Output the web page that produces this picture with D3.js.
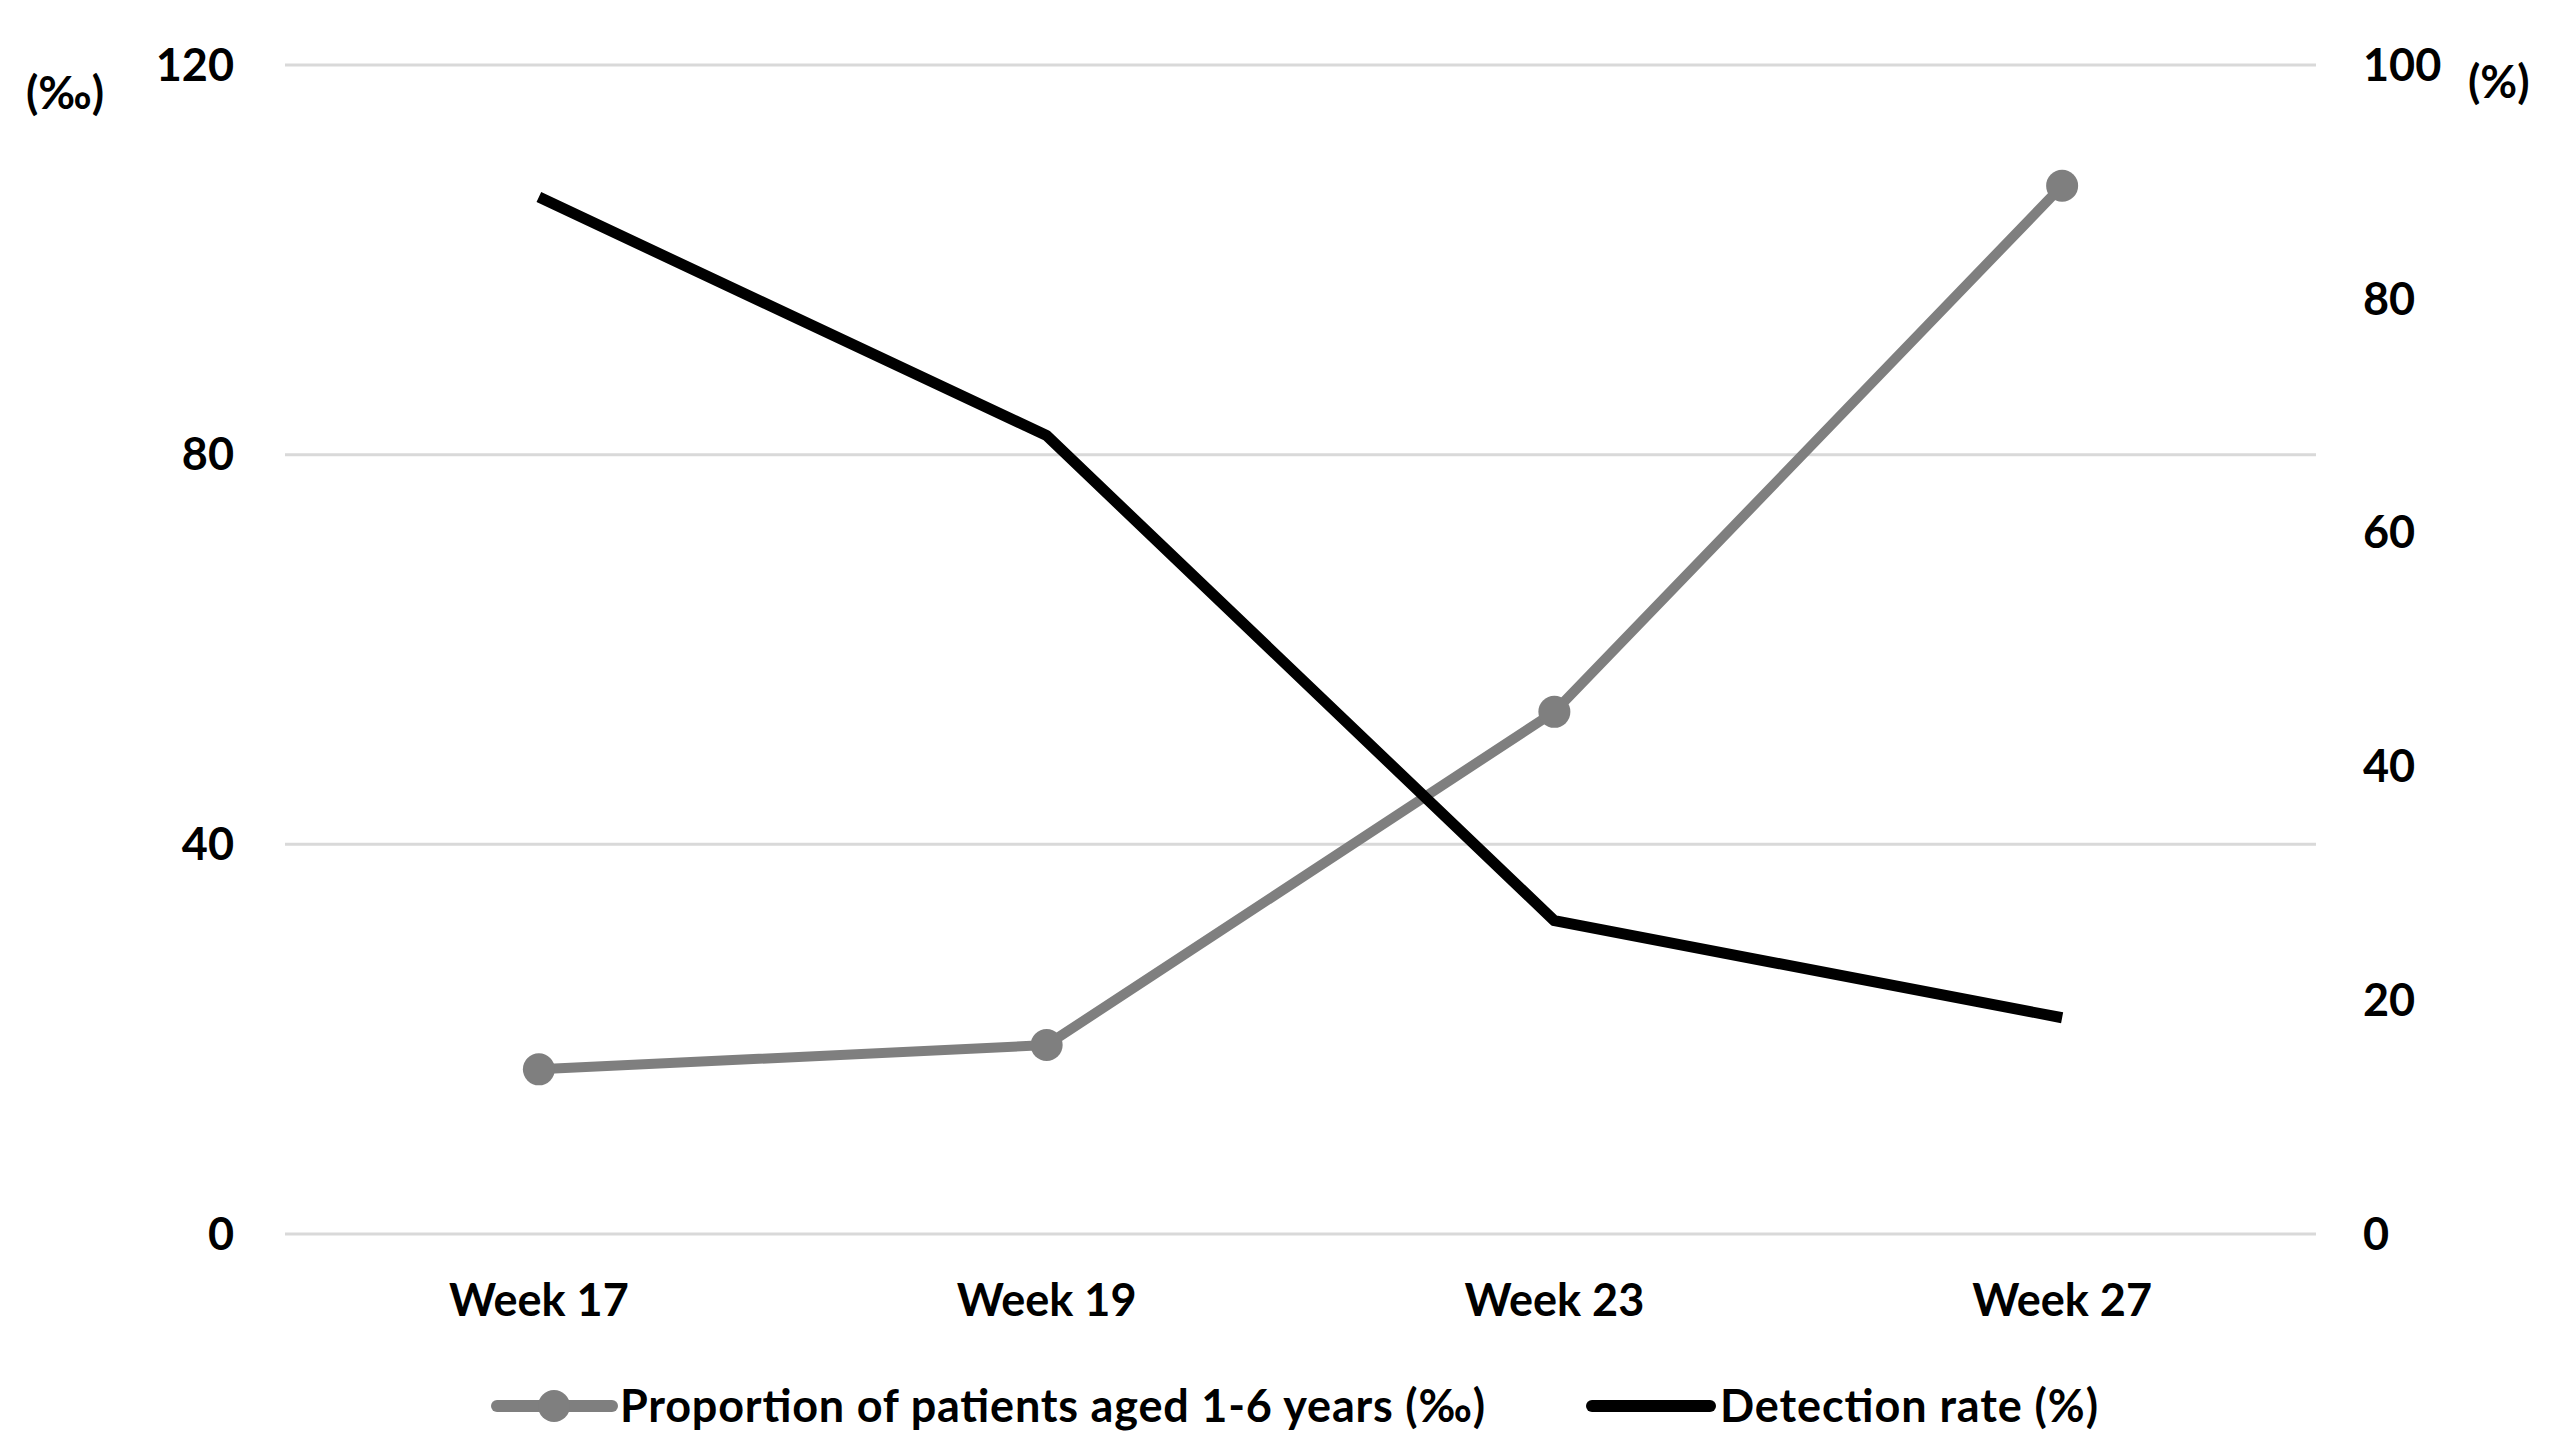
<!DOCTYPE html>
<html>
<head>
<meta charset="utf-8">
<script src="https://cdn.jsdelivr.net/npm/d3@7"></script>
<style>
  html, body { margin: 0; padding: 0; background: #fff; }
  svg { display: block; }
  text { font-family: Lato, "Open Sans", sans-serif; font-weight: bold; fill: #000; }
</style>
</head>
<body>
<svg id="chart"></svg>
<script>
// data
const weeks = ['Week 17', 'Week 19', 'Week 23', 'Week 27'];
const proportion = [16.9, 19.4, 53.6, 107.6];   // ‰, left axis
const detection = [88.7, 68.3, 26.8, 18.5];     // %, right axis
const leftTicks = [0, 40, 80, 120];
const rightTicks = [0, 20, 40, 60, 80, 100];
const legendLabels = ['Proportion of patients aged 1-6 years (‰)', 'Detection rate (%)'];

const W = 2557, H = 1452;
const margin = { left: 285, right: 2557 - 2316, top: 65, bottom: 1452 - 1234 };
const FS = 45;

const svg = d3.select('#chart').attr('width', W).attr('height', H);

const x = d3.scaleBand().domain(weeks).range([margin.left, W - margin.right]);
const yL = d3.scaleLinear().domain([0, 120]).range([H - margin.bottom, margin.top]);
const yR = d3.scaleLinear().domain([0, 100]).range([H - margin.bottom, margin.top]);
const cx = d => x(d) + x.bandwidth() / 2;

// gridlines
svg.append('g').selectAll('line').data(leftTicks).join('line')
  .attr('x1', margin.left).attr('x2', W - margin.right)
  .attr('y1', d => yL(d)).attr('y2', d => yL(d))
  .attr('stroke', '#d9d9d9').attr('stroke-width', 3);

// left axis labels
svg.append('g').selectAll('text').data(leftTicks).join('text')
  .attr('x', 234).attr('y', d => yL(d)).attr('dy', '0.35em')
  .attr('text-anchor', 'end').attr('font-size', FS).text(d => d);

// right axis labels
svg.append('g').selectAll('text').data(rightTicks).join('text')
  .attr('x', 2363).attr('y', d => yR(d)).attr('dy', '0.35em')
  .attr('text-anchor', 'start').attr('font-size', FS).text(d => d);

// unit labels
svg.append('text').attr('x', 26).attr('y', 93).attr('dy', '0.35em')
  .attr('font-size', FS).text('(‰)');
svg.append('text').attr('x', 2468).attr('y', 82).attr('dy', '0.35em')
  .attr('font-size', FS).text('(%)');

// x labels
svg.append('g').selectAll('text').data(weeks).join('text')
  .attr('x', d => cx(d)).attr('y', 1300).attr('dy', '0.35em')
  .attr('text-anchor', 'middle').attr('font-size', FS).text(d => d);

// grey line with markers
const greyLine = d3.line().x((d, i) => cx(weeks[i])).y(d => yL(d));
svg.append('path').datum(proportion).attr('d', greyLine)
  .attr('fill', 'none').attr('stroke', '#7f7f7f').attr('stroke-width', 10)
  .attr('stroke-linejoin', 'round');
svg.append('g').selectAll('circle').data(proportion).join('circle')
  .attr('cx', (d, i) => cx(weeks[i])).attr('cy', d => yL(d)).attr('r', 16)
  .attr('fill', '#7f7f7f');

// black line
const blackLine = d3.line().x((d, i) => cx(weeks[i])).y(d => yR(d));
svg.append('path').datum(detection).attr('d', blackLine)
  .attr('fill', 'none').attr('stroke', '#000').attr('stroke-width', 11)
  .attr('stroke-linejoin', 'round');

// legend
const ly = 1406;
const lg = svg.append('g');
lg.append('line').attr('x1', 497).attr('x2', 612).attr('y1', ly).attr('y2', ly)
  .attr('stroke', '#7f7f7f').attr('stroke-width', 12).attr('stroke-linecap', 'round');
lg.append('circle').attr('cx', 554).attr('cy', ly).attr('r', 16).attr('fill', '#7f7f7f');
lg.append('text').attr('x', 620).attr('y', ly).attr('dy', '0.35em')
  .attr('font-size', FS).attr('textLength', 865).text(legendLabels[0]);
lg.append('line').attr('x1', 1592).attr('x2', 1710).attr('y1', ly).attr('y2', ly)
  .attr('stroke', '#000').attr('stroke-width', 12).attr('stroke-linecap', 'round');
lg.append('text').attr('x', 1720).attr('y', ly).attr('dy', '0.35em')
  .attr('font-size', FS).attr('textLength', 378).text(legendLabels[1]);
</script>
</body>
</html>
